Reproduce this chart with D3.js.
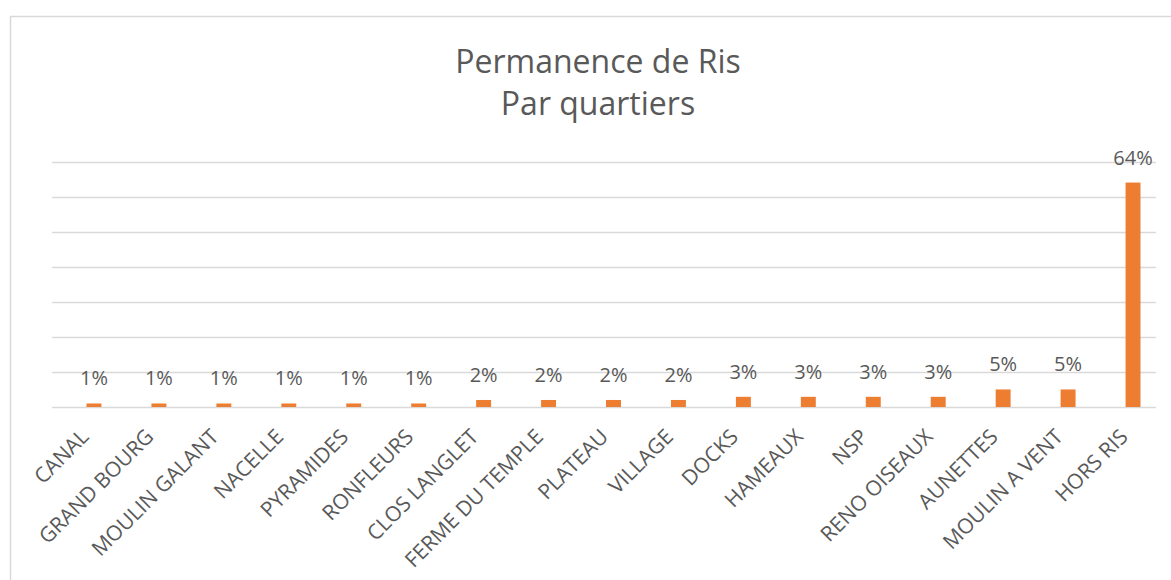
<!DOCTYPE html>
<html>
<head>
<meta charset="utf-8">
<script src="https://d3js.org/d3.v7.min.js"></script>
<style>
  body { margin: 0; background: white; }
  text { font-family: "Open Sans", "Noto Sans", sans-serif; fill: #595959; }
</style>
</head>
<body>
<script>

  // data
  var quartiers = ["CANAL", "GRAND BOURG", "MOULIN GALANT", "NACELLE", "PYRAMIDES", "RONFLEURS",
                   "CLOS LANGLET", "FERME DU TEMPLE", "PLATEAU", "VILLAGE", "DOCKS", "HAMEAUX",
                   "NSP", "RENO OISEAUX", "AUNETTES", "MOULIN A VENT", "HORS RIS"];
  var parts = [0.01, 0.01, 0.01, 0.01, 0.01, 0.01,
               0.02, 0.02, 0.02, 0.02, 0.029, 0.029,
               0.029, 0.029, 0.05, 0.05, 0.64];
  var titleLines = ["Permanence de Ris", "Par quartiers"];
  var yTicks = [0, 0.1, 0.2, 0.3, 0.4, 0.5, 0.6, 0.7];

  var data = quartiers.map(function(q, i) { return {name: q, value: parts[i]}; });

  var W = 1171, H = 580;
  var plot = {left: 52, right: 1156, top: 161.5, bottom: 407};

  var svg = d3.select("body").append("svg")
      .attr("width", W)
      .attr("height", H);

  // chart frame
  svg.append("rect")
      .attr("x", 10.5).attr("y", 16.5)
      .attr("width", 1176).attr("height", 600)
      .style("fill", "white")
      .style("stroke", "#d9d9d9")
      .style("stroke-width", 1.5);

  var yScale = d3.scaleLinear()
      .domain([0, 0.7])
      .range([plot.bottom, plot.top]);

  // bands sit a bit to the right of the gridlines, as in the picture
  var xScale = d3.scaleBand()
      .domain(quartiers)
      .range([61.5, 1165.5])
      .paddingInner(0.77)
      .paddingOuter(0.385);

  // gridlines
  svg.append("g")
      .selectAll("line")
      .data(yTicks)
      .enter()
      .append("line")
      .attr("x1", plot.left)
      .attr("x2", plot.right)
      .attr("y1", function(d) { return Math.round(yScale(d)) + 0.5; })
      .attr("y2", function(d) { return Math.round(yScale(d)) + 0.5; })
      .style("stroke", "#d9d9d9")
      .style("stroke-width", 1.5);

  // title
  svg.append("g")
      .selectAll("text")
      .data(titleLines)
      .enter()
      .append("text")
      .attr("x", 598)
      .attr("y", function(d, i) { return 73 + i * 42; })
      .style("text-anchor", "middle")
      .style("font-size", "32px")
      .text(function(d) { return d; });

  // bars
  svg.append("g")
      .selectAll("rect")
      .data(data)
      .enter()
      .append("rect")
      .attr("x", function(d) { return xScale(d.name); })
      .attr("width", xScale.bandwidth())
      .attr("y", function(d) { return yScale(d.value); })
      .attr("height", function(d) { return yScale(0) - yScale(d.value); })
      .style("fill", "#ed7d31");

  // value labels
  var fmt = d3.format(".0%");
  svg.append("g")
      .selectAll("text")
      .data(data)
      .enter()
      .append("text")
      .attr("x", function(d) { return xScale(d.name) + xScale.bandwidth() / 2; })
      .attr("y", function(d) { return yScale(d.value) - 18; })
      .style("text-anchor", "middle")
      .style("font-size", "20px")
      .text(function(d) { return fmt(d.value); });

  // category labels, rotated -45
  svg.append("g")
      .selectAll("text")
      .data(quartiers)
      .enter()
      .append("text")
      .attr("transform", function(d) {
        var cx = xScale(d) + xScale.bandwidth() / 2;
        return "translate(" + (cx - 4) + ",438) rotate(-45)";
      })
      .style("text-anchor", "end")
      .style("font-size", "21px")
      .text(function(d) { return d; });

</script>
</body>
</html>
